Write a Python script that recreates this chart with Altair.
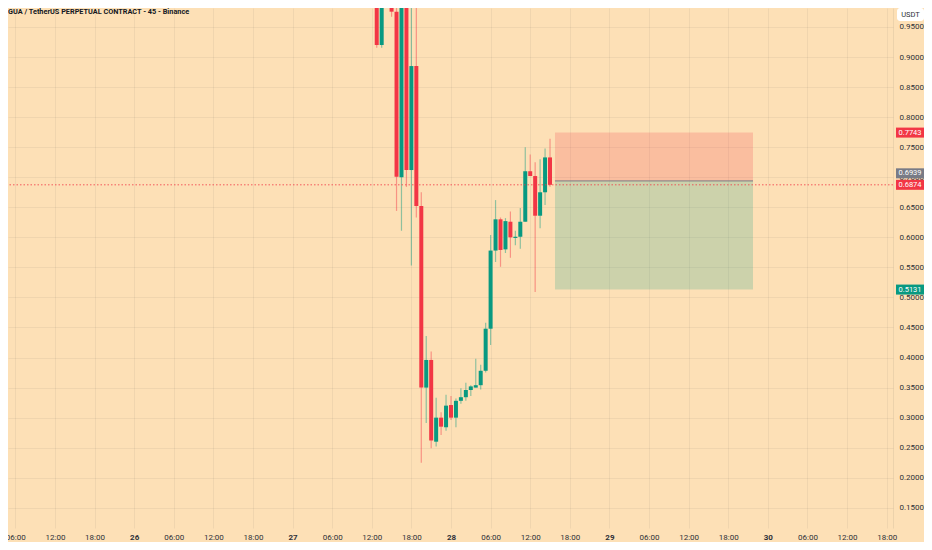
import altair as alt
import pandas as pd

TITLE = "GUA / TetherUS PERPETUAL CONTRACT - 45 - Binance"

# 45-minute candles, time as "day hh:mm"
candle_time = ["27 12:45", "27 13:30", "27 15:00", "27 15:45", "27 16:30", "27 17:15",
               "27 18:00", "27 18:45", "27 19:30", "27 20:15", "27 21:00", "27 21:45",
               "27 22:30", "27 23:15", "28 00:00", "28 00:45", "28 01:30", "28 02:15",
               "28 03:00", "28 03:45", "28 04:30", "28 05:15", "28 06:00", "28 06:45",
               "28 07:30", "28 08:15", "28 09:00", "28 09:45", "28 10:30", "28 11:15",
               "28 12:00", "28 12:45", "28 13:30", "28 14:15", "28 15:00"]
opens = [1.02, 0.920, 1.00, 0.9755, 0.700, 1.00, 0.712, 0.885, 0.652, 0.350, 0.396, 0.260,
         0.300, 0.284, 0.321, 0.300, 0.328, 0.334, 0.346, 0.350, 0.354, 0.378, 0.448, 0.578,
         0.630, 0.580, 0.626, 0.599, 0.601, 0.626, 0.710, 0.702, 0.636, 0.675, 0.733]
highs = [1.05, 1.06, 1.01, 0.985, 1.02, 1.01, 1.02, 0.988, 0.675, 0.436, 0.410, 0.333,
         0.309, 0.338, 0.336, 0.332, 0.349, 0.358, 0.354, 0.398, 0.388, 0.458, 0.604, 0.662,
         0.633, 0.632, 0.643, 0.611, 0.649, 0.750, 0.738, 0.725, 0.730, 0.748, 0.764]
lows = [0.9156, 0.9156, 0.967, 0.644, 0.611, 0.684, 0.553, 0.633, 0.225, 0.291, 0.249, 0.252,
        0.271, 0.278, 0.296, 0.284, 0.323, 0.328, 0.336, 0.350, 0.347, 0.375, 0.421, 0.559,
        0.551, 0.574, 0.566, 0.587, 0.581, 0.626, 0.702, 0.509, 0.615, 0.654, 0.684]
closes = [0.920, 1.03, 0.9755, 0.701, 1.00, 0.712, 0.885, 0.652, 0.350, 0.396, 0.262, 0.300,
          0.285, 0.320, 0.300, 0.328, 0.334, 0.346, 0.352, 0.354, 0.378, 0.448, 0.578, 0.630,
          0.579, 0.627, 0.600, 0.601, 0.626, 0.710, 0.702, 0.636, 0.675, 0.733, 0.6874]

# short position tool
position_start = "28 15:45"
position_end = "29 21:45"
stop_price = 0.7743
entry_price = 0.6939
target_price = 0.5131
last_price = 0.6874

price_ticks = [0.15, 0.20, 0.25, 0.30, 0.35, 0.40, 0.45, 0.50, 0.55, 0.60, 0.65,
               0.70, 0.75, 0.80, 0.85, 0.90, 0.95]
time_ticks = [-66, -60, -54, -48, -42, -36, -30, -24, -18, -12, -6, 0,
              6, 12, 18, 24, 30, 36, 42, 48, 54, 60, 66]  # hours from day 28 00:00

BG = "#fde0b6"
UP = "#089981"
DOWN = "#f23645"
GRAY = "#787b86"
TXT = "#2e3038"
FONT = "Roboto"


def to_hours(s):
    d, hm = s.split()
    h, m = hm.split(":")
    return (int(d) - 28) * 24 + int(h) + int(m) / 60


candles = pd.DataFrame({
    "t": [to_hours(s) for s in candle_time],
    "open": opens, "high": highs, "low": lows, "close": closes,
})

xs = alt.Scale(domain=[-66.35, 66.2], nice=False, zero=False)
ys = alt.Scale(domain=[0.11639, 0.98161], nice=False, zero=False)

mod = "(((datum.value % 24) + 24) % 24)"
x_axis = alt.Axis(
    values=time_ticks, title=None, grid=True, gridColor="#2a2e39", gridOpacity=0.06,
    tickSize=0, domain=False, labelPadding=5, labelFontSize=8, labelFont=FONT,
    labelColor=TXT,
    labelExpr=f"{mod} == 0 ? toString(28 + floor(datum.value / 24)) : ({mod} < 10 ? '0' : '') + toString({mod}) + ':00'",
    labelFontWeight={"condition": {"test": f"{mod} == 0", "value": "bold"}, "value": "normal"},
)
y_axis = alt.Axis(
    values=price_ticks, title=None, orient="right", format=".4f", grid=True,
    gridColor="#2a2e39", gridOpacity=0.06, tickSize=0, domain=True,
    domainColor="#2a2e39", domainOpacity=0.08, labelPadding=6, labelFontSize=8,
    labelFont=FONT, labelColor=TXT,
)


def X(f):
    return alt.X(f, type="quantitative", scale=xs, axis=x_axis)


def Y(f):
    return alt.Y(f, type="quantitative", scale=ys, axis=y_axis)


# position zones
zones = pd.DataFrame({
    "t0": [to_hours(position_start)] * 2,
    "t1": [to_hours(position_end)] * 2,
    "lo": [entry_price, target_price],
    "hi": [stop_price, entry_price],
    "kind": ["stop", "target"],
})
zone_layer = alt.Chart(zones).mark_rect(opacity=0.2).encode(
    x=X("t0"), x2="t1", y=Y("lo"), y2="hi",
    color=alt.Color("kind:N", scale=alt.Scale(domain=["stop", "target"], range=[DOWN, UP]), legend=None),
)
entry_df = pd.DataFrame({"t0": [to_hours(position_start)], "t1": [to_hours(position_end)], "p": [entry_price]})
entry_layer = alt.Chart(entry_df).mark_rule(color=GRAY, strokeWidth=1).encode(
    x=X("t0"), x2="t1", y=Y("p"))

last_df = pd.DataFrame({"p": [last_price]})
last_layer = alt.Chart(last_df).mark_rule(color=DOWN, strokeWidth=1, strokeDash=[1.5, 2], opacity=0.8).encode(
    y=Y("p"))

cond = "datum.close >= datum.open"
wick_layer = alt.Chart(candles).mark_rule(strokeWidth=1.2, opacity=0.45, clip=True).encode(
    x=X("t"), y=Y("low"), y2="high",
    color=alt.condition(cond, alt.value(UP), alt.value(DOWN)),
)
body_layer = alt.Chart(candles).mark_bar(size=4, clip=True).encode(
    x=X("t"), y=Y("open"), y2="close",
    color=alt.condition(cond, alt.value(UP), alt.value(DOWN)),
)

# price tags on the price scale
tags = pd.DataFrame({
    "p": [stop_price, last_price, target_price],
    "c": [DOWN, DOWN, UP],
})
tags["lab"] = [f"{v:.4f}" for v in tags["p"]]
tag_box = alt.Chart(tags).mark_tick(orient="horizontal", size=28, thickness=10, opacity=1).encode(
    x=alt.value(902), y=Y("p"), color=alt.Color("c:N", scale=None))
tag_txt = alt.Chart(tags).mark_text(color="white", fontSize=7.5, font=FONT).encode(
    x=alt.value(902), y=Y("p"), text="lab:N")

etag = pd.DataFrame({"p": [entry_price], "lab": [f"{entry_price:.4f}"]})
etag_box = alt.Chart(etag).mark_tick(orient="horizontal", size=28, thickness=10, color=GRAY,
                                     opacity=1, yOffset=-7.6).encode(
    x=alt.value(902), y=Y("p"))
etag_txt = alt.Chart(etag).mark_text(color="white", fontSize=7.5, font=FONT, yOffset=-7.6).encode(
    x=alt.value(902), y=Y("p"), text="lab:N")

unit_df = pd.DataFrame({"u": ["USDT"]})
unit_box = alt.Chart(unit_df).mark_rect(color="white", cornerRadius=3).encode(
    x=alt.value(889), x2=alt.value(916), y=alt.value(0), y2=alt.value(13))
unit_txt = alt.Chart(unit_df).mark_text(fontSize=7.5, font=FONT, color=TXT).encode(
    x=alt.value(902.5), y=alt.value(6.5), text="u:N")

title_df = pd.DataFrame({"t": [TITLE]})
title_layer = alt.Chart(title_df).mark_text(
    align="left", baseline="middle", fontSize=7.3, fontWeight="bold", font=FONT, color="#131722"
).encode(x=alt.value(0), y=alt.value(3.5), text="t:N")

chart = alt.layer(
    zone_layer, entry_layer, wick_layer, body_layer, last_layer,
    etag_box, etag_txt, tag_box, tag_txt, unit_box, unit_txt, title_layer,
).properties(
    width=885, height=520,
    autosize=alt.AutoSizeParams(type="none"),
    padding={"left": 0, "top": 0, "right": 31, "bottom": 14},
    background=BG,
).configure_view(strokeWidth=0)

chart.save("out.html", embed_options={"renderer": "svg", "actions": False})
